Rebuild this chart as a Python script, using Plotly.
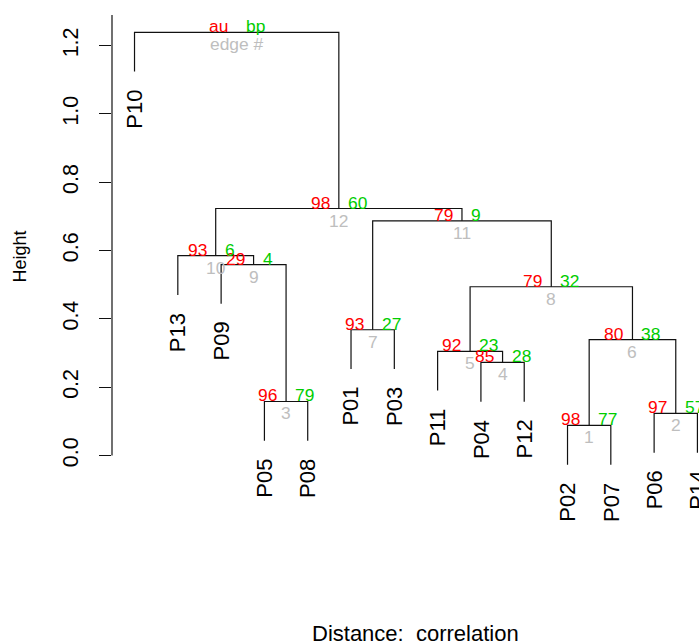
import plotly.graph_objects as go

# ---- data ----
leaf_order = ["P10", "P13", "P09", "P05", "P08", "P01", "P03",
              "P11", "P04", "P12", "P02", "P07", "P06", "P14"]
# merges (edge numbers 1..13); ints refer to earlier edges
merge_left = ["P02", "P06", "P05", "P04", "P11", 1, "P01", 5, "P09", "P13", 7, 10, "P10"]
merge_right = ["P07", "P14", "P08", "P12", 4, 2, "P03", 6, 3, 9, 8, 11, 12]
heights = [0.088, 0.123, 0.158, 0.2725, 0.305, 0.339, 0.368, 0.494,
           0.559, 0.585, 0.687, 0.723, 1.239]
au_vals = ["98", "97", "96", "85", "92", "80", "93", "79", "29", "93", "79", "98", "au"]
bp_vals = ["77", "57", "79", "28", "23", "38", "27", "32", "4", "6", "9", "60", "bp"]
edge_ids = [str(i) for i in range(1, 13)] + ["edge #"]
y_ticks = [0.0, 0.2, 0.4, 0.6, 0.8, 1.0, 1.2]
y_tick_text = ["0.0", "0.2", "0.4", "0.6", "0.8", "1.0", "1.2"]

FONT = "Liberation Sans, Arial, sans-serif"
RED = "#FF0000"
GREEN = "#00CD00"
GRAY = "#BEBEBE"

n = len(leaf_order)
pos = {lab: i + 1 for i, lab in enumerate(leaf_order)}
hang = 0.1 * (max(heights) - min(heights))

node_x = {}
for k, (l, r) in enumerate(zip(merge_left, merge_right), start=1):
    xl = pos[l] if isinstance(l, str) else node_x[l]
    xr = pos[r] if isinstance(r, str) else node_x[r]
    node_x[k] = (xl + xr) / 2.0

xs, ys = [], []
leaf_end = {}
for k, (l, r) in enumerate(zip(merge_left, merge_right), start=1):
    h = heights[k - 1]
    pts = []
    for c in (l, r):
        if isinstance(c, str):
            cx, cy = pos[c], h - hang
            leaf_end[c] = cy
        else:
            cx, cy = node_x[c], heights[c - 1]
        pts.append((cx, cy))
    (x1, y1), (x2, y2) = pts
    xs += [x1, x1, x2, x2, None]
    ys += [y1, h, h, y2, None]

ymin = min(leaf_end.values())
ymax = max(heights)
ext = 0.04 * (ymax - ymin)
y_range = [ymin - ext, ymax + ext]
x_lo = 1 - 0.04 * (n - 1)
px_per_unit = 43.3
plot_w = 699 - 112
x_range = [x_lo, x_lo + plot_w / px_per_unit]

fig = go.Figure()
fig.add_trace(go.Scatter(x=xs, y=ys, mode="lines",
                         line=dict(color="#111111", width=1.2),
                         hoverinfo="skip", showlegend=False))

ann = []
for lab in leaf_order:
    ann.append(dict(x=pos[lab], y=leaf_end[lab], xref="x", yref="y",
                    text=lab, textangle=-90, showarrow=False,
                    xanchor="center", yanchor="top", yshift=-16,
                    font=dict(family=FONT, size=22, color="black")))
for k in range(1, len(heights) + 1):
    x, h = node_x[k], heights[k - 1]
    ann.append(dict(x=x, y=h, xref="x", yref="y", text=au_vals[k - 1],
                    showarrow=False, xanchor="right", yanchor="middle",
                    xshift=-7, yshift=6,
                    font=dict(family=FONT, size=17.4, color=RED)))
    ann.append(dict(x=x, y=h, xref="x", yref="y", text=bp_vals[k - 1],
                    showarrow=False, xanchor="left", yanchor="middle",
                    xshift=7, yshift=6,
                    font=dict(family=FONT, size=17.4, color=GREEN)))
    ann.append(dict(x=x, y=h, xref="x", yref="y", text=edge_ids[k - 1],
                    showarrow=False, xanchor="center", yanchor="middle",
                    yshift=-12,
                    font=dict(family=FONT, size=17.4, color=GRAY)))

# axis titles
ann.append(dict(x=(415.7 - 112) / plot_w, y=(482 - 633) / 467.0,
                xref="paper", yref="paper", text="Distance: \u00a0correlation",
                showarrow=False, xanchor="center", yanchor="middle",
                font=dict(family=FONT, size=22, color="black")))
ann.append(dict(x=(19.5 - 112) / plot_w, y=(482 - 257) / 467.0,
                xref="paper", yref="paper", text="Height", textangle=-90,
                showarrow=False, xanchor="center", yanchor="middle",
                font=dict(family=FONT, size=18, color="black")))

fig.add_shape(type="line", xref="paper", yref="y", x0=0, x1=0,
              y0=0, y1=y_range[1], line=dict(color="#111111", width=1.2))

fig.update_layout(
    width=699, height=642,
    margin=dict(l=112, r=0, t=15, b=160, pad=0),
    paper_bgcolor="white", plot_bgcolor="white",
    annotations=ann,
    xaxis=dict(range=x_range, visible=False, showgrid=False, zeroline=False),
    yaxis=dict(range=y_range, tickvals=y_ticks, ticktext=y_tick_text,
               ticks="outside", ticklen=12, tickcolor="#111111", tickwidth=1.2,
               tickangle=-90, ticklabelstandoff=12,
               tickfont=dict(family=FONT, size=21.5, color="black"),
               showline=False, showgrid=False, zeroline=False),
)

fig.write_html("out.html")
